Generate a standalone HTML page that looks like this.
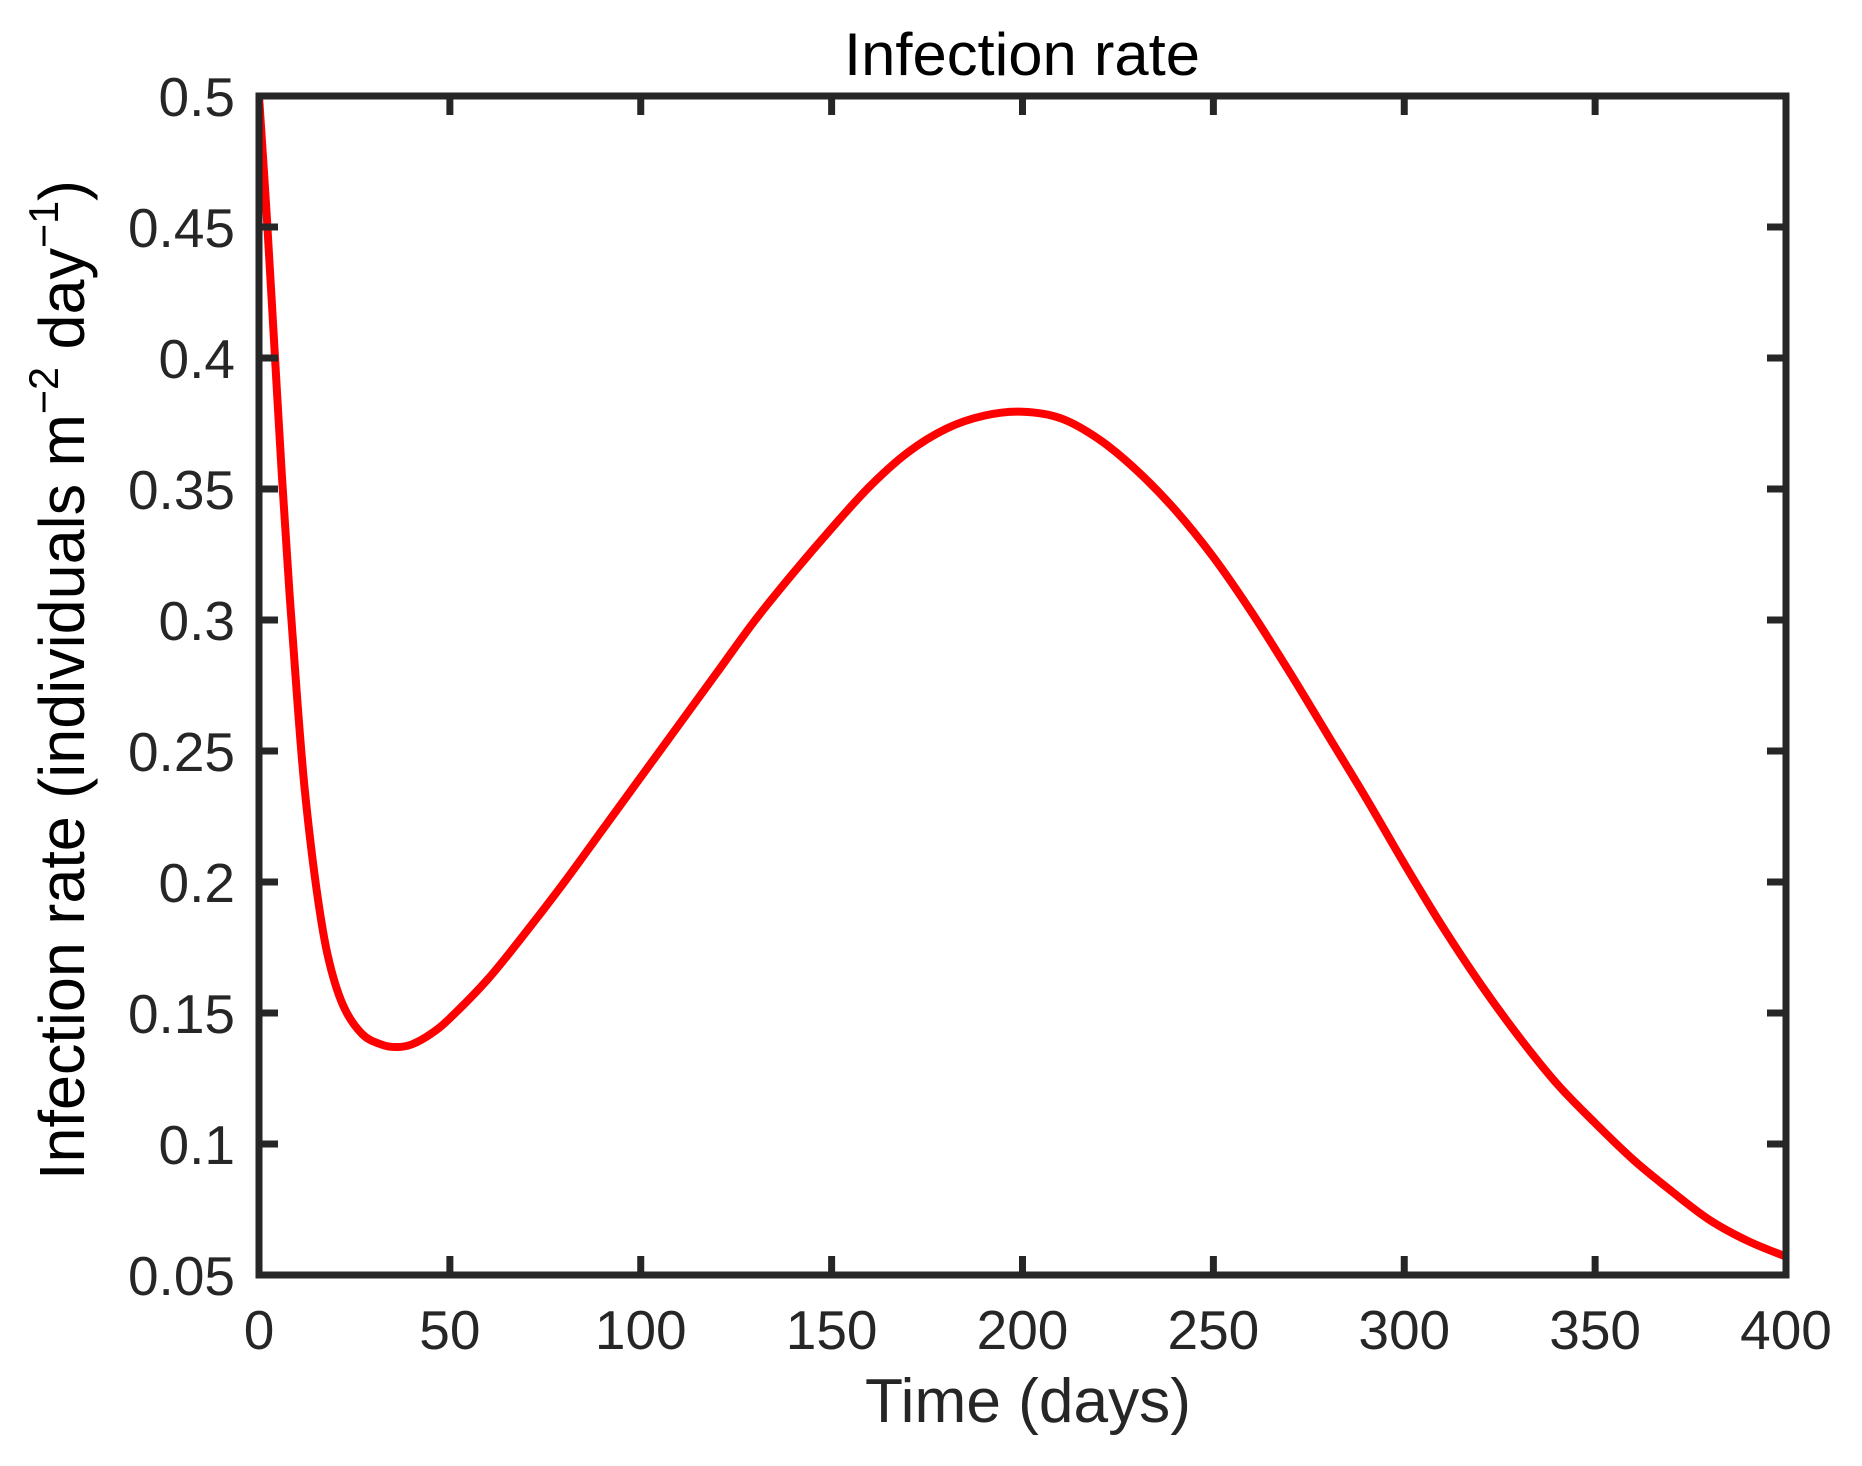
<!DOCTYPE html>
<html><head><meta charset="utf-8"><style>
html,body{margin:0;padding:0;background:#fff;}
svg{display:block;font-family:"Liberation Sans",Arial,sans-serif;}
</style></head><body>
<svg id="chart" width="1862" height="1466" viewBox="0 0 1862 1466" xmlns="http://www.w3.org/2000/svg">
<rect x="0" y="0" width="1862" height="1466" fill="#fff"/>
<text x="1022" y="75" font-size="60" text-anchor="middle" fill="#000" textLength="356" lengthAdjust="spacingAndGlyphs">Infection rate</text>
<text x="1028" y="1422" font-size="62" text-anchor="middle" fill="#262626" textLength="326" lengthAdjust="spacingAndGlyphs">Time (days)</text>
<text transform="translate(84,680) rotate(-90)" x="0" y="0" font-size="64" text-anchor="middle" fill="#000" textLength="1000" lengthAdjust="spacingAndGlyphs">Infection rate (individuals m<tspan font-size="42" dy="-26">−2</tspan><tspan dy="26"> day</tspan><tspan font-size="42" dy="-26">−1</tspan><tspan dy="26">)</tspan></text>
<g id="plot"></g>
</svg>
<script>
const days = [0,2,4,6,8,10,12,15,18,22,27,32,36,40,45,50,60,70,80,90,100,110,120,130,140,150,160,170,180,190,200,210,220,230,240,250,260,270,280,290,300,310,320,330,340,350,360,370,380,390,400];
const rates = [0.5,0.455,0.405,0.355,0.31,0.27,0.235,0.198,0.172,0.153,0.142,0.138,0.137,0.138,0.142,0.148,0.163,0.181,0.200,0.220,0.240,0.260,0.280,0.300,0.318,0.335,0.351,0.364,0.373,0.378,0.3795,0.377,0.369,0.357,0.342,0.324,0.303,0.280,0.256,0.232,0.207,0.183,0.161,0.141,0.123,0.108,0.094,0.082,0.071,0.063,0.057];
const xTicks = [0,50,100,150,200,250,300,350,400];
const yTicks = [0.05,0.1,0.15,0.2,0.25,0.3,0.35,0.4,0.45,0.5];
const yTickLabels = ["0.05","0.1","0.15","0.2","0.25","0.3","0.35","0.4","0.45","0.5"];

const L=259,R=1786,T=96,B=1275;
const X0=0,X1=400,Y0=0.05,Y1=0.5;
function sx(v){return L+(v-X0)/(X1-X0)*(R-L);}
function sy(v){return B-(v-Y0)/(Y1-Y0)*(B-T);}
const NS="http://www.w3.org/2000/svg";
const g=document.getElementById('plot');
function mk(tag,attrs){const e=document.createElementNS(NS,tag);for(const k in attrs)e.setAttribute(k,attrs[k]);g.appendChild(e);return e;}

const pts=days.map((d,i)=>[sx(d),sy(rates[i])]);
let d='M'+pts[0][0]+','+pts[0][1];
for(let i=0;i<pts.length-1;i++){
  const p0=pts[Math.max(0,i-1)],p1=pts[i],p2=pts[i+1],p3=pts[Math.min(pts.length-1,i+2)];
  const c1=[p1[0]+(p2[0]-p0[0])/6,p1[1]+(p2[1]-p0[1])/6];
  const c2=[p2[0]-(p3[0]-p1[0])/6,p2[1]-(p3[1]-p1[1])/6];
  d+=' C'+c1[0]+','+c1[1]+' '+c2[0]+','+c2[1]+' '+p2[0]+','+p2[1];
}
const clip=document.createElementNS(NS,'clipPath');clip.setAttribute('id','pc');
const cr=document.createElementNS(NS,'rect');cr.setAttribute('x',L);cr.setAttribute('y',T);cr.setAttribute('width',R-L);cr.setAttribute('height',B-T);
clip.appendChild(cr);g.appendChild(clip);
const line=mk('path',{d:d,fill:'none',stroke:'#ff0000','stroke-width':8,'stroke-linejoin':'round','clip-path':'url(#pc)'});



xTicks.forEach(v=>{
  const x=sx(v);
  const t1=mk('line',{x1:x,x2:x,y1:B,y2:B-19,stroke:'#262626','stroke-width':7});
  
  
  const t2=mk('line',{x1:x,x2:x,y1:T,y2:T+19,stroke:'#262626','stroke-width':7});
  
  
  const lb=mk('text',{x:x,y:B+74,'font-size':55,'text-anchor':'middle',fill:'#262626'});
  lb.textContent=String(v);
  
  
});
yTicks.forEach((v,i)=>{
  const y=sy(v);
  const t1=mk('line',{x1:L,x2:L+19,y1:y,y2:y,stroke:'#262626','stroke-width':7});
  
  
  const t2=mk('line',{x1:R,x2:R-19,y1:y,y2:y,stroke:'#262626','stroke-width':7});
  
  
  const lb=mk('text',{x:235,y:y+20,'font-size':55,'text-anchor':'end',fill:'#262626'});
  lb.textContent=yTickLabels[i];
  
  
});
const box=mk('rect',{x:L,y:T,width:R-L,height:B-T,fill:'none',stroke:'#262626','stroke-width':7});


</script>
</body></html>
